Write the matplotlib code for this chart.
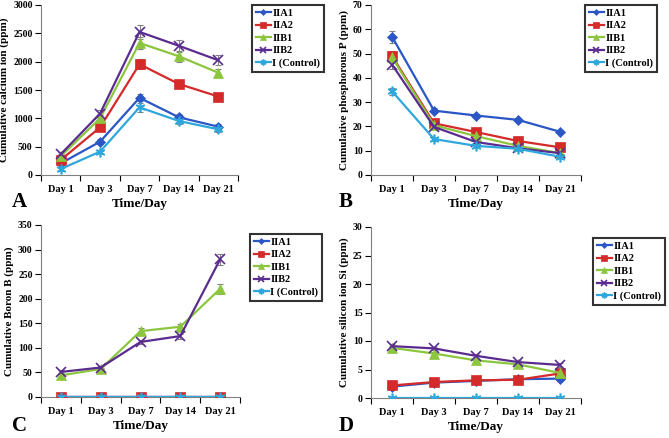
import numpy as np
import matplotlib
matplotlib.use('Agg')
import matplotlib.pyplot as plt

# -----------------------------------------------------------------------
# Data
# -----------------------------------------------------------------------
days = ['Day 1', 'Day 3', 'Day 7', 'Day 14', 'Day 21']
names = ['IIA1', 'IIA2', 'IIB1', 'IIB2', 'I (Control)']

# A - calcium
ca_IIA1 = [205, 588, 1362, 1018, 853]
ca_IIA2 = [265, 841, 1955, 1606, 1385]
ca_IIB1 = [330, 1000, 2330, 2095, 1805]
ca_IIB2 = [365, 1085, 2525, 2280, 2025]
ca_ctrl = [106, 412, 1194, 953, 806]
ca_err = [[30, 40, 60, 50, 40], [40, 50, 90, 60, 50], [40, 60, 100, 100, 70],
          [40, 60, 120, 110, 90], [30, 30, 80, 50, 40]]

# B - phosphorous
p_IIA1 = [57.0, 26.5, 24.5, 22.7, 17.8]
p_IIA2 = [49.0, 21.3, 17.7, 14.0, 11.4]
p_IIB1 = [48.5, 20.5, 16.0, 12.0, 9.0]
p_IIB2 = [45.5, 19.8, 13.6, 11.0, 9.0]
p_ctrl = [34.5, 14.8, 12.0, 10.8, 7.5]
p_err = [[2.5, 1.0, 0.8, 0.7, 0.6], [2.0, 0.8, 0.7, 0.6, 0.5], [2.0, 0.8, 0.7, 0.5, 0.4],
         [2.0, 0.7, 0.6, 0.5, 0.4], [1.5, 0.6, 0.5, 0.5, 0.4]]

# C - boron
b_IIA1 = [0, 0, 0, 0, 0]
b_IIA2 = [0, 0, 0, 0, 0]
b_IIB1 = [44, 57, 134, 143, 220]
b_IIB2 = [51, 60, 112, 124, 280]
b_ctrl = [0, 0, 0, 0, 0]
b_err = [[0] * 5, [0] * 5, [3, 3, 6, 6, 10], [3, 3, 4, 5, 12], [0] * 5]

# D - silicon
si_IIA1 = [2.0, 2.7, 3.0, 3.3, 3.4]
si_IIA2 = [2.2, 2.8, 3.1, 3.2, 4.3]
si_IIB1 = [8.8, 7.8, 6.6, 5.9, 4.4]
si_IIB2 = [9.1, 8.7, 7.4, 6.3, 5.8]
si_ctrl = [0, 0, 0, 0, 0]
si_err = [[0.2] * 5, [0.2] * 5, [0.3] * 5, [0.3] * 5, [0] * 5]

colors = ['#2A56C6', '#D42A2A', '#8CC63E', '#5B2C8F', '#2EA8DC']
markers = ['D', 's', '^', 'x', (6, 2, 0)]
msizes = [5, 7, 7, 7, 7]

plt.rcParams['font.family'] = ['Liberation Serif', 'DejaVu Serif']
plt.rcParams['font.weight'] = 'bold'


def draw_panel(ax, series, errors, ymax, ystep, ylabel, letter, letter_xy, leg_xy):
    x = np.arange(len(days))
    for i, (vals, err) in enumerate(zip(series, errors)):
        thin = markers[i] in ('x', (6, 2, 0))
        ax.errorbar(x, vals, yerr=err, fmt='none', ecolor='#808080',
                    elinewidth=0.8, capsize=2.5, capthick=0.8, zorder=2)
        ax.plot(x, vals, color=colors[i], marker=markers[i],
                markersize=msizes[i], markeredgewidth=1.2 if thin else 0.5,
                markeredgecolor=colors[i], linewidth=1.6, label=names[i],
                zorder=3)
    ax.set_xlim(-0.5, len(days) - 0.5)
    ax.set_ylim(0, ymax)
    ax.set_yticks(np.arange(0, ymax + ystep / 2, ystep))
    ax.set_xticks(x)
    ax.set_xticklabels(days, fontsize=7.5, fontweight='bold')
    ax.set_xticks(np.arange(-0.5, len(days), 1), minor=True)
    ax.tick_params(axis='x', which='major', length=0, pad=7)
    ax.tick_params(axis='x', which='minor', length=4, direction='out', width=0.8)
    ax.tick_params(axis='y', length=4, direction='out', width=0.8, labelsize=7, pad=2)
    for lab in ax.get_yticklabels():
        lab.set_fontweight('bold')
    for sp in ('top', 'right'):
        ax.spines[sp].set_visible(False)
    for sp in ('left', 'bottom'):
        ax.spines[sp].set_color('#808080')
        ax.spines[sp].set_linewidth(0.8)
    ax.set_xlabel('Time/Day', fontsize=9.5, fontweight='bold', labelpad=3)
    ax.set_ylabel(ylabel, fontsize=8, fontweight='bold', labelpad=3)
    fig.text(letter_xy[0], letter_xy[1], letter, fontsize=15, fontweight='bold',
             ha='left', va='center')
    leg = ax.legend(loc='upper left', bbox_to_anchor=leg_xy,
                    bbox_transform=fig.transFigure, fontsize=7.5,
                    frameon=True, fancybox=False, handlelength=1.5,
                    handletextpad=0.1, labelspacing=0.3, borderpad=0.35,
                    borderaxespad=0, markerscale=0.6)
    leg.get_frame().set_edgecolor('black')
    leg.get_frame().set_linewidth(1.5)
    for t in leg.get_texts():
        t.set_fontweight('bold')


fig = plt.figure(figsize=(6.69, 4.38), dpi=100)
axA = fig.add_axes([41 / 669, 1 - 175 / 438, 197 / 669, 170 / 438])
axB = fig.add_axes([371 / 669, 1 - 175 / 438, 210 / 669, 170 / 438])
axC = fig.add_axes([41 / 669, 1 - 397 / 438, 199 / 669, 172 / 438])
axD = fig.add_axes([371 / 669, 1 - 398 / 438, 210 / 669, 171 / 438])

draw_panel(axA, [ca_IIA1, ca_IIA2, ca_IIB1, ca_IIB2, ca_ctrl], ca_err, 3000, 500,
           'Cumulative calcium ion (ppm)', 'A', (12 / 669, 1 - 202 / 438),
           (252 / 669, 1 - 5 / 438))
draw_panel(axB, [p_IIA1, p_IIA2, p_IIB1, p_IIB2, p_ctrl], p_err, 70, 10,
           'Cumulative phosphorous P (ppm)', 'B', (339 / 669, 1 - 202 / 438),
           (585 / 669, 1 - 5 / 438))
draw_panel(axC, [b_IIA1, b_IIA2, b_IIB1, b_IIB2, b_ctrl], b_err, 350, 50,
           'Cumulative Boron B (ppm)', 'C', (12 / 669, 1 - 426 / 438),
           (250 / 669, 1 - 234 / 438))
draw_panel(axD, [si_IIA1, si_IIA2, si_IIB1, si_IIB2, si_ctrl], si_err, 30, 5,
           'Cumulative silicon ion Si (ppm)', 'D', (339 / 669, 1 - 426 / 438),
           (593 / 669, 1 - 238 / 438))

fig.savefig('out.png', dpi=100)
